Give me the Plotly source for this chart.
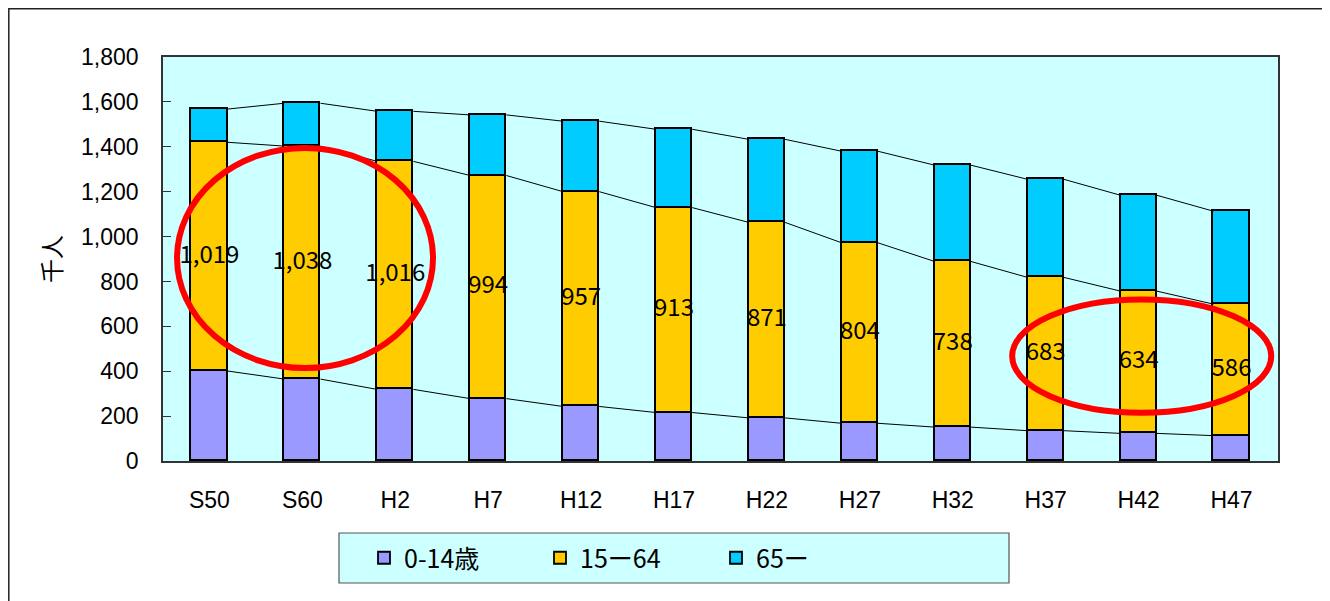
import plotly.graph_objects as go

categories = ["S50", "S60", "H2", "H7", "H12", "H17", "H22", "H27", "H32", "H37", "H42", "H47"]
age_0_14 = [401, 365, 319, 278, 243, 216, 192, 168, 151, 135, 123, 113]
age_15_64 = [1019, 1038, 1016, 994, 957, 913, 871, 804, 738, 683, 634, 586]
age_65 = [148, 191, 223, 270, 314, 349, 370, 408, 429, 437, 427, 414]
series_names = ["0-14歳", "15ー64", "65ー"]
y_ticks = [0, 200, 400, 600, 800, 1000, 1200, 1400, 1600, 1800]

colors = ["#9999FF", "#FFCC00", "#00CCFF"]
OFF = 8  # page body margin
W, H = 1330 - OFF, 601 - OFF
# plot area in page pixels: x 163..1278, y 57..461
L, R, T, B = 163 - OFF, 1330 - 1278, 57 - OFF, 601 - 461
pw, ph = W - L - R, H - T - B
BAR_W = 0.39

def px_x(p):  # page pixel -> paper
    return (p - OFF - L) / pw

def px_y(p):
    return (H - B - (p - OFF)) / ph

xs = list(range(len(categories)))
fig = go.Figure()
for vals, name, col in zip([age_0_14, age_15_64, age_65], series_names, colors):
    fig.add_trace(go.Bar(
        x=xs, y=vals, name=name, width=BAR_W,
        marker=dict(color=col, line=dict(color="black", width=1.8)),
        hoverinfo="y",
    ))

# series lines connecting segment tops
cum1 = age_0_14
cum2 = [a + b for a, b in zip(age_0_14, age_15_64)]
cum3 = [a + b + c for a, b, c in zip(age_0_14, age_15_64, age_65)]
for level in [cum1, cum2, cum3]:
    lx, ly = [], []
    for i in range(len(xs) - 1):
        lx += [xs[i] + BAR_W / 2, xs[i + 1] - BAR_W / 2, None]
        ly += [level[i], level[i + 1], None]
    fig.add_trace(go.Scatter(x=lx, y=ly, mode="lines", line=dict(color="black", width=1),
                             showlegend=False, hoverinfo="skip"))

# data labels for 15-64
fig.add_trace(go.Scatter(
    x=xs, y=[a + b / 2 for a, b in zip(age_0_14, age_15_64)],
    text=[f"{v:,}" for v in age_15_64], mode="text",
    textfont=dict(family="Liberation Sans Narrow, Noto Sans CJK JP", size=24, color="black"),
    showlegend=False, hoverinfo="skip", cliponaxis=False,
))

shapes = [
    # outer frame
    dict(type="rect", xref="paper", yref="paper", x0=px_x(OFF + 0.8), x1=px_x(1323), y0=px_y(612),
         y1=px_y(OFF + 0.8), line=dict(color="#222", width=1.5), layer="below"),
    # legend box
    dict(type="rect", xref="paper", yref="paper", x0=px_x(339), x1=px_x(1009), y0=px_y(583), y1=px_y(533),
         line=dict(color="#555", width=1.2), fillcolor="#CCFFFF", layer="below"),
    # red ellipses
    dict(type="circle", xref="x", yref="y", x0=-0.349, x1=2.406, y0=414, y1=1395,
         line=dict(color="#FF0000", width=6)),
    dict(type="circle", xref="x", yref="y", x0=8.639, x1=11.427, y0=215, y1=720,
         line=dict(color="#FF0000", width=6)),
]

fig.update_layout(
    width=W, height=H,
    margin=dict(l=L, r=R, t=T, b=B, autoexpand=False),
    paper_bgcolor="white", plot_bgcolor="#CCFFFF",
    barmode="stack", bargap=0,
    showlegend=True,
    legend=dict(orientation="h", x=px_x(364), xanchor="left", y=px_y(558), yanchor="middle",
                bgcolor="rgba(0,0,0,0)", borderwidth=0,
                entrywidth=131, entrywidthmode="pixels",
                font=dict(family="Liberation Sans Narrow, Noto Sans CJK JP", size=25, color="black"),
                traceorder="normal"),
    shapes=shapes,
    xaxis=dict(range=[-0.5, len(categories) - 0.5], tickvals=xs, ticktext=categories,
               showline=True, linecolor="#333", linewidth=1.5, mirror=True, ticks="",
               showgrid=False, zeroline=False, ticklabelstandoff=18,
               tickfont=dict(family="Liberation Sans, Arial", size=23, color="black")),
    yaxis=dict(range=[0, 1800], tickvals=y_ticks, tickformat=",d",
               showline=True, linecolor="#333", linewidth=1.5, mirror=True,
               ticks="inside", ticklen=8, tickcolor="#333", tickwidth=1.2,
               showgrid=False, zeroline=False, ticklabelstandoff=18,
               tickfont=dict(family="Liberation Sans, Arial", size=23, color="black"),
               title=dict(text="千人", standoff=13,
                          font=dict(family="Noto Sans CJK JP", size=24, color="black"))),
)

fig.write_html("out.html")
